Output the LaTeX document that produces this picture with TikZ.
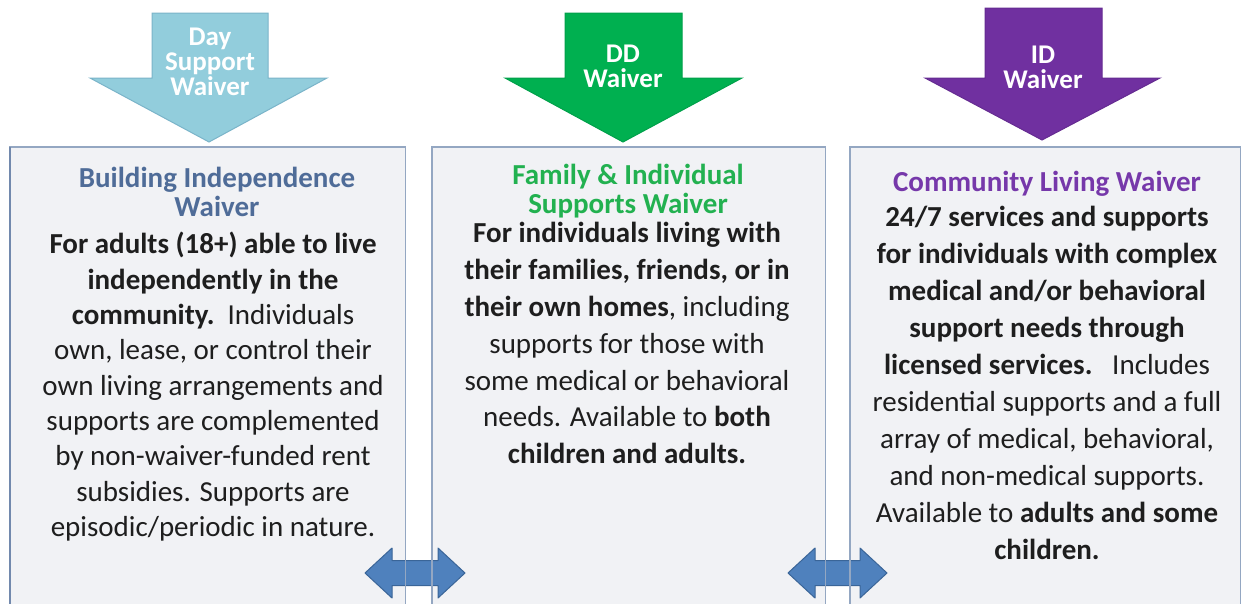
\documentclass[tikz,border=0pt]{standalone}
\usepackage{fontspec}
\setmainfont{Carlito}
\definecolor{boxfill}{HTML}{F1F2F5}
\definecolor{boxline}{HTML}{94A7C2}
\definecolor{aqua}{HTML}{92CDDC}
\definecolor{aqualine}{HTML}{7AB4C9}
\definecolor{ddgreen}{HTML}{00B050}
\definecolor{ddgreenline}{HTML}{00A04A}
\definecolor{idpurple}{HTML}{7030A0}
\definecolor{idpurpleline}{HTML}{652B91}
\definecolor{titleblue}{HTML}{4F6C98}
\definecolor{titlegreen}{HTML}{22B150}
\definecolor{titlepurple}{HTML}{7638AA}
\definecolor{dblue}{HTML}{4F81BD}
\definecolor{dblueline}{HTML}{3A6598}
\definecolor{bodytext}{HTML}{1E1E1E}
\begin{document}
\begin{tikzpicture}[x=1pt,y=-1pt,
  panel/.style={fill=boxfill, draw=none, minimum width=#1, minimum height=480pt, anchor=north west, inner sep=0pt},
  panelborder/.style={draw=boxline, line width=1.6pt},
  bigarrow/.style={line width=1pt},
  arrowtext/.style={font=\fontsize{27}{25}\selectfont\bfseries, text=white, align=center, inner sep=0pt},
  titletext/.style={font=\fontsize{29}{25}\selectfont\bfseries, align=center, anchor=north, inner sep=0pt},
  bodytxt/.style={font=\fontsize{29}{#1}\selectfont, text=bodytext, align=center, anchor=north, inner sep=0pt},
  dbl/.style={fill=dblue, draw=dblueline, line width=1pt, line join=round}
]
\useasboundingbox (0,0) rectangle (1244,603);
\clip (0,0) rectangle (1244,603);
\fill[white] (0,0) rectangle (1244,603);

% panels (fill)
\node[panel=395pt] (b1) at (10,147) {};
\node[panel=393pt] (b2) at (432,147) {};
\node[panel=390pt] (b3) at (850,147) {};

% double arrows between panels
\fill[dbl] (365,573) -- (392,548) -- (392,560.5) -- (438,560.5) -- (438,548) -- (465,573)
  -- (438,598) -- (438,585.5) -- (392,585.5) -- (392,598) -- cycle;
\fill[dbl] (788,573) -- (815,548) -- (815,560.5) -- (860,560.5) -- (860,548) -- (887,573)
  -- (860,598) -- (860,585.5) -- (815,585.5) -- (815,598) -- cycle;

% panel borders
\draw[panelborder] (b1.south west) -- (b1.north west) -- (b1.north east) -- (b1.south east);
\draw[panelborder] (b2.south west) -- (b2.north west) -- (b2.north east) -- (b2.south east);
\draw[panelborder] (b3.south west) -- (b3.north west) -- (b3.north east) -- (b3.south east);
\draw[draw=titleblue!80, line width=1.6pt] (b1.south west) -- (b1.north west);

% top arrows
\filldraw[bigarrow, fill=aqua, draw=aqualine] (152,13) -- (268,13) -- (268,78) -- (327,78) -- (209,142)
  -- (90,78) -- (152,78) -- cycle;
\filldraw[bigarrow, fill=ddgreen, draw=ddgreenline] (565,13) -- (682,13) -- (682,78) -- (742,78) -- (623,142)
  -- (505,78) -- (565,78) -- cycle;
\filldraw[bigarrow, fill=idpurple, draw=idpurpleline] (985,8) -- (1102,8) -- (1102,78) -- (1160,78) -- (1042,140)
  -- (925,78) -- (985,78) -- cycle;

\node[arrowtext] (a1) at (210,62) {Day\\Support\\Waiver};
\node[arrowtext] (a2) at (623,66) {DD\\Waiver};
\node[arrowtext] (a3) at (1043,67) {ID\\Waiver};

% titles
\node[titletext, text=titleblue] (t1) at (217,167) {\strut Building Independence\\Waiver};
\node[titletext, text=titlegreen] (t2) at (628,164) {\strut Family \& Individual\\Supports Waiver};
\node[titletext, text=titlepurple] (t3) at (1047,171) {\strut Community Living Waiver};

% bodies
\node[bodytxt=35.3] (d1) at (213,229) {\strut\textbf{For adults (18+) able to live}\\
\textbf{independently in the}\\
\textbf{community.}\ \ Individuals\\
own, lease, or control their\\
own living arrangements and\\
supports are complemented\\
by non-waiver-funded rent\\
subsidies. Supports are\\
episodic/periodic in nature.};

\node[bodytxt=36.8] (d2) at (627,217) {\strut\textbf{For individuals living with}\\
\textbf{their families, friends, or in}\\
\textbf{their own homes}, including\\
supports for those with\\
some medical or behavioral\\
needs. Available to \textbf{both}\\
\textbf{children and adults.}};

\node[bodytxt=37] (d3) at (1047,200) {\strut\textbf{24/7 services and supports}\\
\textbf{for individuals with complex}\\
\textbf{medical and/or behavioral}\\
\textbf{support needs through}\\
\textbf{licensed services.}\ \ \ Includes\\
residential supports and a full\\
array of medical, behavioral,\\
and non-medical supports.\\
Available to \textbf{adults and some}\\
\textbf{children.}};
\end{tikzpicture}
\end{document}
